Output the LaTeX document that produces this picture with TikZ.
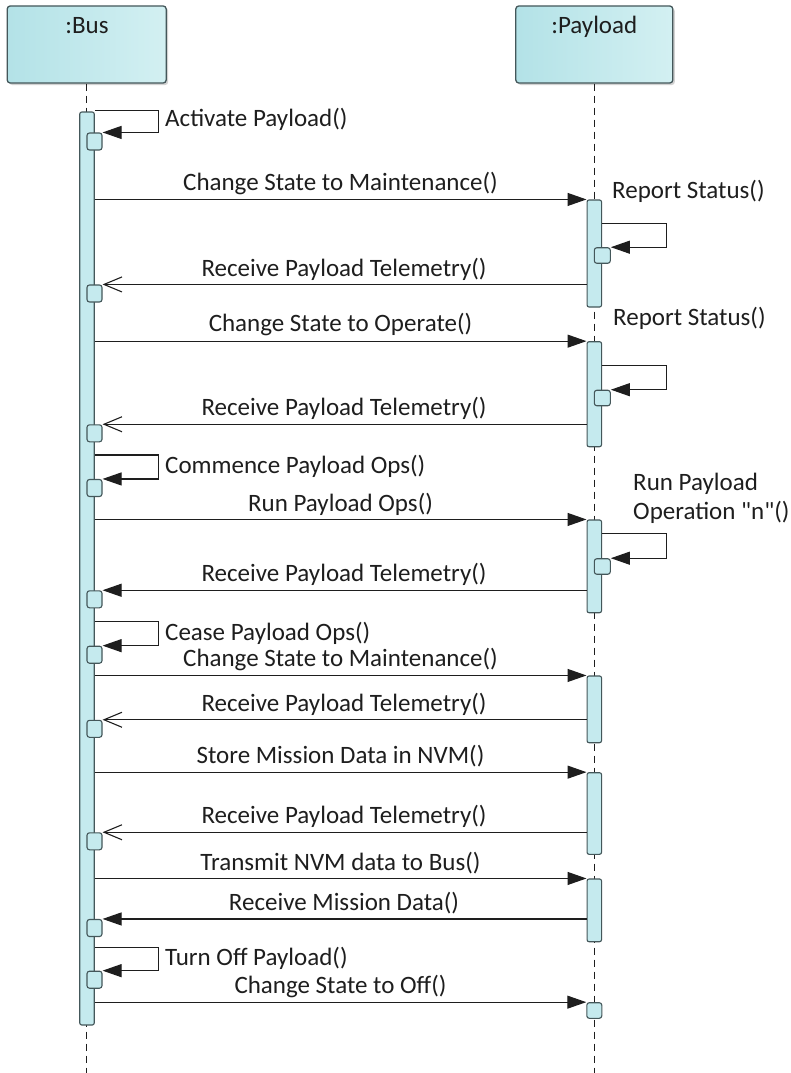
\documentclass[tikz,border=0pt]{standalone}
\usepackage{fontspec}
\setmainfont{Carlito}[Ligatures=TeXOff]
\usetikzlibrary{arrows.meta,shadows,calc}
\definecolor{barfill}{HTML}{C5EAEE}
\definecolor{edge}{HTML}{44575A}
\definecolor{ink}{HTML}{1E1E1E}
\definecolor{hdrL}{HTML}{B3E2E7}
\definecolor{hdrR}{HTML}{D3F0F2}
\begin{document}
\begin{tikzpicture}[x=1pt,y=-1pt,
  every node/.style={font=\fontsize{25pt}{30pt}\selectfont, text=ink, inner sep=0pt},
  hdr/.style={draw=edge, line width=1.3pt, rounded corners=3pt, left color=hdrL, right color=hdrR,
    drop shadow={shadow xshift=2pt,shadow yshift=-2pt,opacity=0.35}, minimum height=77pt},
  lifeline/.style={draw=ink, line width=1pt, dash pattern=on 7pt off 5pt},
  actbar/.style={draw=edge, fill=barfill, line width=1.1pt, rounded corners=2pt, minimum width=14.5pt},
  execbox/.style={draw=edge, fill=barfill, line width=1.1pt, rounded corners=2.5pt, minimum width=15pt, minimum height=17pt},
  msg/.style={draw=ink, line width=1.1pt, -{Triangle[length=19pt,width=13pt]}},
  reply/.style={draw=ink, line width=1.1pt, -{Straight Barb[length=18pt,width=15pt]}},
  lbl/.style={anchor=base},
  slbl/.style={anchor=base west}]
\useasboundingbox (0,0) rectangle (790,1073);
\fill[white] (0,0) rectangle (790,1073);

% headers
\node[hdr, minimum width=159pt] (bushdr) at (86.7,44.5) {};
\node[hdr, minimum width=157pt] (payhdr) at (594.3,44.5) {};
\node[lbl] (bust) at (87,34) {:Bus};
\node[lbl] (payt) at (594.3,34) {:Payload};

% lifelines
\coordinate (busend) at (86.7,1073);
\coordinate (payend) at (594.3,1073);
\draw[lifeline] (bushdr.south) -- (busend);
\draw[lifeline] (payhdr.south) -- (payend);

% activation bars
\node[actbar, minimum height=913pt] (busbar) at (87,568.5) {};
\node[actbar, minimum height=107pt] (pb1) at (594.3,253.5) {};
\node[actbar, minimum height=105pt] (pb2) at (594.3,394.2) {};
\node[actbar, minimum height=92.7pt] (pb3) at (594.3,566.35) {};
\node[actbar, minimum height=66.7pt] (pb4) at (594.3,709.35) {};
\node[actbar, minimum height=81.6pt] (pb5) at (594.3,813.5) {};
\node[actbar, minimum height=62.7pt] (pb6) at (594.3,910.35) {};

% execution boxes on bus
\node[execbox] (b1) at (94.5,141.5) {};
\node[execbox] (b2) at (94.5,293.5) {};
\node[execbox] (b3) at (94.5,433.3) {};
\node[execbox] (b4) at (94.5,488) {};
\node[execbox] (b5) at (94.5,599.3) {};
\node[execbox] (b6) at (94.5,654.7) {};
\node[execbox] (b7) at (94.5,728.8) {};
\node[execbox] (b8) at (94.5,841.3) {};
\node[execbox] (b9) at (94.5,928) {};
\node[execbox] (b10) at (94.5,979.7) {};
% execution boxes on payload
\node[execbox, minimum width=16pt, minimum height=15.5pt] (p1) at (602.3,255.5) {};
\node[execbox, minimum width=16pt, minimum height=15.5pt] (p2) at (602.3,398) {};
\node[execbox, minimum width=16pt, minimum height=15.5pt] (p3) at (602.3,566.5) {};
\node[execbox, minimum width=15pt, minimum height=15.6pt] (pbox7) at (594.3,1010.5) {};

% self messages on bus
\draw[msg] ($(busbar.east |- b1.north)+(0,-22)$) -| ++(64,22) -- (b1.north east);
\draw[msg] ($(busbar.east |- b4.north)+(0,-24)$) -| ++(64,24) -- (b4.north east);
\draw[msg] ($(busbar.east |- b6.north)+(0,-24)$) -| ++(64,24) -- (b6.north east);
\draw[msg] ($(busbar.east |- b10.north)+(0,-23.5)$) -| ++(64,23.5) -- (b10.north east);
% self messages on payload
\draw[msg] ($(pb1.east |- p1.north)+(0,-24)$) -| ++(64.5,24) -- (p1.north east);
\draw[msg] ($(pb2.east |- p2.north)+(0,-24.5)$) -| ++(64.5,24.5) -- (p2.north east);
\draw[msg] ($(pb3.east |- p3.north)+(0,-25)$) -| ++(64.5,25) -- (p3.north east);

% calls
\draw[msg] (busbar.east |- pb1.north) -- (pb1.north west);
\draw[msg] (busbar.east |- pb2.north) -- (pb2.north west);
\draw[msg] (busbar.east |- pb3.north) -- (pb3.north west);
\draw[msg] (busbar.east |- pb4.north) -- (pb4.north west);
\draw[msg] (busbar.east |- pb5.north) -- (pb5.north west);
\draw[msg] (busbar.east |- pb6.north) -- (pb6.north west);
\draw[msg] (busbar.east |- pbox7.north) -- (pbox7.north west);

% returns
\draw[reply] (pb1.west |- b2.north) -- (b2.north east);
\draw[reply] (pb2.west |- b3.north) -- (b3.north east);
\draw[msg] (pb3.west |- b5.north) -- (b5.north east);
\draw[reply] (pb4.west |- b7.north) -- (b7.north east);
\draw[reply] (pb5.west |- b8.north) -- (b8.north east);
\draw[msg] (pb6.west |- b9.north) -- (b9.north east);

% labels of self messages
\node[slbl] (l1) at (165,126) {Activate Payload()};
\node[slbl] (l2) at (165,473) {Commence Payload Ops()};
\node[slbl] (l3) at (165,640) {Cease Payload Ops()};
\node[slbl] (l4) at (165,965) {Turn Off Payload()};
\node[slbl] (l5) at (612,198) {Report Status()};
\node[slbl] (l6) at (613,325) {Report Status()};
\node[slbl] (l7) at (633,490) {Run Payload};
\node[slbl] (l8) at (633,519) {Operation "n"()};

% labels of messages
\node[lbl] (m1) at (340.5,190) {Change State to Maintenance()};
\node[lbl] (r1) at (344,276.5) {Receive Payload Telemetry()};
\node[lbl] (m2) at (340.5,331.5) {Change State to Operate()};
\node[lbl] (r2) at (344,415.5) {Receive Payload Telemetry()};
\node[lbl] (m3) at (340.5,511) {Run Payload Ops()};
\node[lbl] (r3) at (344,581) {Receive Payload Telemetry()};
\node[lbl] (m4) at (340.5,666.5) {Change State to Maintenance()};
\node[lbl] (r4) at (344,711) {Receive Payload Telemetry()};
\node[lbl] (m5) at (340.5,763.5) {Store Mission Data in NVM()};
\node[lbl] (r5) at (344,823.5) {Receive Payload Telemetry()};
\node[lbl] (m6) at (340.5,870) {Transmit NVM data to Bus()};
\node[lbl] (r6) at (344,910) {Receive Mission Data()};
\node[lbl] (m7) at (340.5,993) {Change State to Off()};
\end{tikzpicture}
\end{document}
